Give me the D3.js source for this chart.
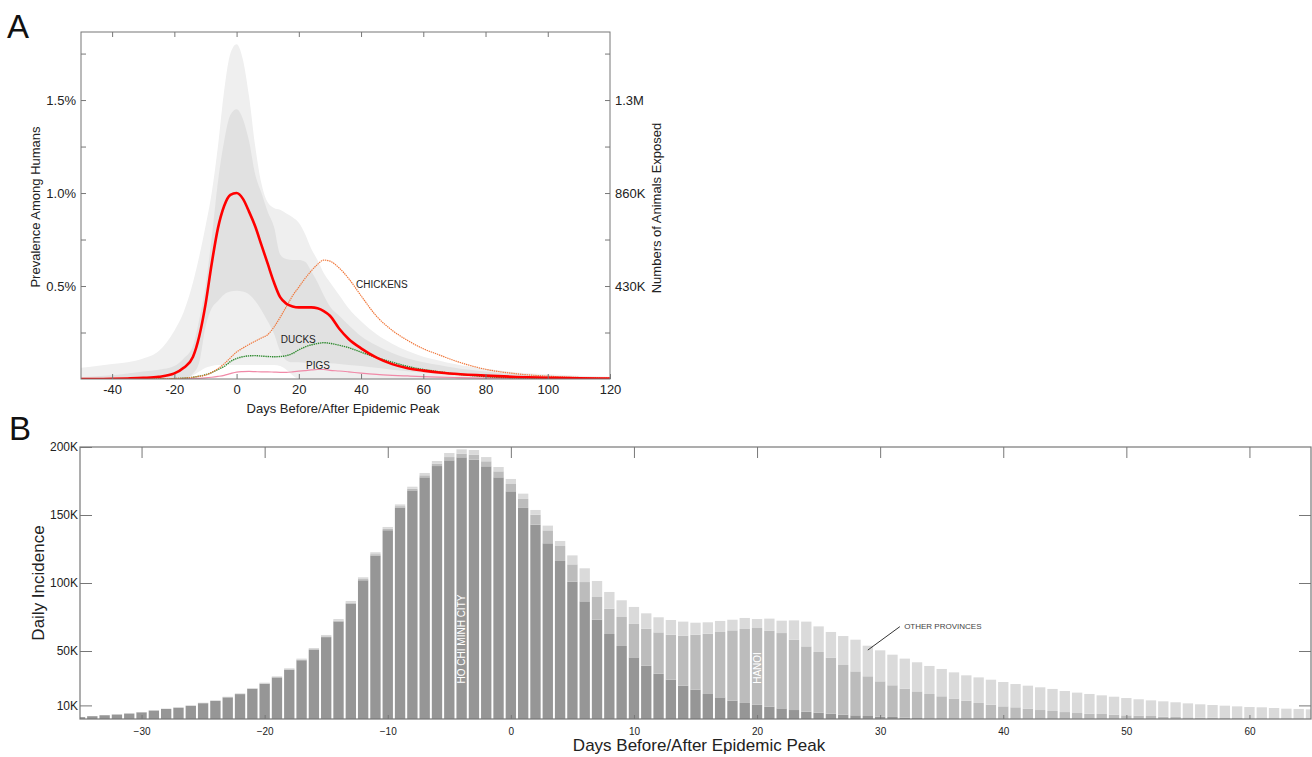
<!DOCTYPE html>
<html>
<head>
<meta charset="utf-8">
<script src="https://cdn.jsdelivr.net/npm/d3@7"></script>
<style>
  body { margin: 0; background: #fff; }
  svg { font-family: "Liberation Sans", Arial, sans-serif; }
  .tick text { fill: #222; }
</style>
</head>
<body>
<div id="chart"></div>
<script>
// ---------- panel A data (days relative to epidemic peak) ----------
const daysA = [-50, -45, -40, -35, -30, -25, -20, -17, -14, -12, -10, -8, -6, -4, -2, 0, 2, 4, 6, 8, 10, 12, 14, 16, 18, 20, 22, 24, 26, 28, 30, 33, 36, 40, 45, 50, 55, 60, 65, 70, 80, 90, 100, 110, 120];

// human prevalence, percent
const humanPct   = [0, 0, 0.001, 0.003, 0.006, 0.012, 0.03, 0.06, 0.12, 0.23, 0.40, 0.62, 0.81, 0.93, 0.99, 1.0, 0.97, 0.90, 0.82, 0.72, 0.62, 0.52, 0.44, 0.405, 0.39, 0.385, 0.385, 0.385, 0.38, 0.365, 0.34, 0.27, 0.215, 0.165, 0.115, 0.08, 0.058, 0.045, 0.035, 0.028, 0.018, 0.011, 0.007, 0.004, 0.002];
const outerHiPct = [0.06, 0.07, 0.08, 0.09, 0.11, 0.15, 0.26, 0.36, 0.52, 0.66, 0.82, 1.0, 1.25, 1.55, 1.75, 1.80, 1.72, 1.52, 1.25, 1.05, 0.95, 0.92, 0.91, 0.89, 0.87, 0.84, 0.78, 0.70, 0.64, 0.57, 0.52, 0.45, 0.38, 0.31, 0.24, 0.19, 0.15, 0.12, 0.10, 0.08, 0.055, 0.035, 0.025, 0.018, 0.012];
const outerLoPct = [0, 0, 0, 0, 0, 0, 0, 0, 0.02, 0.04, 0.06, 0.07, 0.075, 0.075, 0.075, 0.075, 0.075, 0.075, 0.075, 0.075, 0.075, 0.075, 0.07, 0.05, 0.02, 0, 0, 0, 0, 0, 0, 0, 0, 0, 0, 0, 0, 0, 0, 0, 0, 0, 0, 0, 0];
const innerHiPct = [0.01, 0.015, 0.02, 0.03, 0.04, 0.05, 0.07, 0.11, 0.18, 0.32, 0.50, 0.76, 1.06, 1.28, 1.42, 1.45, 1.40, 1.28, 1.10, 1.0, 0.90, 0.82, 0.67, 0.645, 0.64, 0.64, 0.63, 0.58, 0.52, 0.45, 0.39, 0.34, 0.29, 0.23, 0.18, 0.14, 0.11, 0.09, 0.075, 0.06, 0.04, 0.025, 0.018, 0.012, 0.008];
const innerLoPct = [0, 0, 0, 0, 0, 0, 0, 0, 0.03, 0.09, 0.28, 0.38, 0.42, 0.455, 0.47, 0.475, 0.47, 0.455, 0.42, 0.37, 0.31, 0.245, 0.15, 0.10, 0.09, 0.09, 0.088, 0.086, 0.085, 0.085, 0.085, 0.08, 0.075, 0.07, 0.06, 0.05, 0.042, 0.035, 0.027, 0.02, 0.01, 0, 0, 0, 0];

// animals exposed, thousands
const chickensK = [0, 0, 0, 0, 0, 1, 2, 4, 8, 12, 18, 30, 48, 70, 98, 125, 143, 160, 175, 190, 205, 240, 285, 335, 385, 425, 465, 500, 530, 550, 545, 513, 465, 385, 290, 225, 178, 140, 112, 85, 45, 24, 13, 7, 4];
const ducksK    = [0, 0, 0, 0, 0, 1, 2, 4, 8, 13, 20, 30, 44, 58, 80, 95, 103, 107, 108, 106, 104, 103, 104, 108, 118, 135, 148, 158, 164, 168, 165, 156, 145, 124, 99, 78, 58, 44, 34, 24, 11, 5, 3, 1, 1];
const pigsK     = [0, 0, 0, 0, 0, 0, 0, 1, 2, 3, 5, 8, 12, 17, 25, 32, 34, 35, 34, 33, 33, 32, 31, 31, 33, 36, 39, 42, 44, 44, 40, 37, 33, 27, 21, 17, 14, 11, 9, 7, 4, 3, 2, 1, 1];

const xTicksA = [-40, -20, 0, 20, 40, 60, 80, 100, 120];
const yTicksA = [0.25, 0.5, 0.75, 1.0, 1.25, 1.5, 1.75];
const yLabelsA = { 0.5: '0.5%', 1.0: '1.0%', 1.5: '1.5%' };
const nTicksA = [215, 430, 645, 860, 1075, 1290, 1505];
const nLabelsA = { 430: '430K', 860: '860K', 1290: '1.3M' };

// ---------- panel B data (daily incidence, thousands) ----------
const daysB = d3.range(-35, 66);
const hcmcK = [1.4, 2.1, 2.8, 3.3, 4.0, 4.9, 6.2, 7.4, 8.3, 9.7, 11.6, 13.3, 15.9, 18.3, 22.1, 25.9, 30.5, 36.2, 43.2, 50.8, 60.2, 71.7, 84.8, 102.0, 120.2, 138.8, 155.5, 168.1, 177.7,
  186.0, 190.2, 192.4, 190.7, 185.8, 177.7, 167.4, 155.2, 142.9, 129.2, 116.2, 101.0, 86.5, 73.0, 62.5, 53.7, 45.3, 39.2, 33.3, 28.9, 24.5, 21.6, 18.4, 15.9, 13.5, 11.8,
  10.5, 9.1, 7.8, 6.6, 5.4, 4.7, 3.9, 3.2, 2.7, 2.2, 1.7, 1.5, 1.0, 0.7, 0.5, 0.5, 0.4, 0.3, 0.3, 0.2, 0.2, 0.2, 0.1, 0.1, 0.1,
  0.1, 0.1, 0.1, 0.1, 0.1, 0.1, 0.1, 0.1, 0.1, 0.1, 0.1, 0.1, 0.1, 0.1, 0.1, 0.1, 0.1, 0.1, 0.1, 0.1, 0.1];
const hanoiK = [0, 0, 0, 0, 0.1, 0.1, 0.1, 0.1, 0.1, 0.1, 0.2, 0.2, 0.2, 0.2, 0.3, 0.3, 0.4, 0.4, 0.5, 0.6, 0.6, 0.7, 0.8, 0.9, 1.0, 1.0, 1.0, 1.2, 1.5,
  1.8, 2.4, 2.7, 3.7, 3.7, 4.4, 5.4, 6.6, 7.3, 9.5, 11.0, 12.7, 14.2, 16.7, 18.6, 21.3, 24.6, 27.2, 30.4, 33.1, 36.8, 40.4, 44.3, 48.1, 51.7, 54.4,
  56.4, 55.9, 55.4, 51.7, 48.0, 44.6, 41.2, 36.5, 32.3, 29.2, 26.0, 23.3, 21.3, 19.6, 17.9, 16.2, 14.6, 13.2, 11.5, 10.3, 9.1, 8.4, 7.5, 6.5, 5.8,
  5.0, 4.3, 3.8, 3.6, 3.1, 2.6, 2.4, 2.1, 1.6, 1.4, 1.1, 0.9, 0.9, 0.6, 0.6, 0.4, 0.4, 0.3, 0.3, 0.2, 0.2];
const otherK = [0.1, 0.1, 0.1, 0.1, 0.1, 0.1, 0.1, 0.1, 0.2, 0.2, 0.2, 0.2, 0.3, 0.4, 0.4, 0.5, 0.5, 0.7, 0.7, 0.8, 1.0, 1.1, 1.2, 1.3, 1.4, 1.4, 1.3, 1.5, 1.7,
  1.9, 3.0, 3.2, 3.4, 3.1, 3.2, 3.7, 3.9, 3.5, 3.5, 3.7, 6.6, 10.1, 11.8, 12.3, 12.3, 12.5, 11.3, 11.1, 10.8, 10.3, 8.8, 8.4, 8.1, 7.8, 8.1,
  6.6, 8.8, 9.1, 14.2, 18.2, 18.8, 18.9, 21.3, 23.3, 22.5, 22.8, 22.5, 22.1, 21.4, 20.6, 20.1, 19.3, 18.6, 18.8, 18.4, 17.9, 17.1, 16.9, 16.7, 16.2,
  15.5, 15.0, 14.5, 13.7, 13.2, 12.7, 12.0, 11.5, 11.3, 10.8, 10.3, 9.8, 9.3, 9.1, 8.6, 8.3, 8.1, 7.7, 7.2, 7.1, 6.8];

const xTicksB = [-30, -20, -10, 0, 10, 20, 30, 40, 50, 60];
const yTicksB = [10, 50, 100, 150, 200];
const layerNames = ['hcmc', 'hanoi', 'other'];
const layerColors = ['#969696', '#bcbcbc', '#dadada'];

// ---------- svg ----------
const svg = d3.select('#chart')
  .append('svg')
  .attr('width', 1312)
  .attr('height', 757);

const axisColor = '#777';

// ===================== PANEL A =====================
const boxA = { left: 81, right: 610, top: 32, bottom: 379 };
const topPct = 1.866;

const xA = d3.scaleLinear().domain([-50, 120]).range([boxA.left, boxA.right]);
const yA = d3.scaleLinear().domain([0, topPct]).range([boxA.bottom, boxA.top]);
const yN = d3.scaleLinear().domain([0, topPct * 860]).range([boxA.bottom, boxA.top]);

const gA = svg.append('g');

gA.append('clipPath').attr('id', 'clipA')
  .append('rect')
  .attr('x', boxA.left).attr('y', boxA.top)
  .attr('width', boxA.right - boxA.left).attr('height', boxA.bottom - boxA.top);

const plotA = gA.append('g').attr('clip-path', 'url(#clipA)');

const band = (lo, hi) => d3.area()
  .x((d, i) => xA(daysA[i]))
  .y0((d, i) => yA(lo[i]))
  .y1((d, i) => yA(hi[i]))
  .curve(d3.curveMonotoneX);

plotA.append('path')
  .datum(daysA)
  .attr('d', band(outerLoPct, outerHiPct))
  .attr('fill', '#efefef');

plotA.append('path')
  .datum(daysA)
  .attr('d', band(innerLoPct, innerHiPct))
  .attr('fill', '#e1e1e1');

const animalLine = d3.line()
  .x((d, i) => xA(daysA[i]))
  .y(d => yN(d))
  .curve(d3.curveMonotoneX);

plotA.append('path')
  .datum(pigsK)
  .attr('d', animalLine)
  .attr('fill', 'none')
  .attr('stroke', '#f08aa8')
  .attr('stroke-width', 1.2);

plotA.append('path')
  .datum(ducksK)
  .attr('d', animalLine)
  .attr('fill', 'none')
  .attr('stroke', '#2f8a2f')
  .attr('stroke-width', 1.4)
  .attr('stroke-dasharray', '1.4,0.8');

plotA.append('path')
  .datum(chickensK)
  .attr('d', animalLine)
  .attr('fill', 'none')
  .attr('stroke', '#f0773a')
  .attr('stroke-width', 1.2)
  .attr('stroke-dasharray', '1.4,0.8');

plotA.append('path')
  .datum(humanPct)
  .attr('d', d3.line()
    .x((d, i) => xA(daysA[i]))
    .y(d => yA(d))
    .curve(d3.curveMonotoneX))
  .attr('fill', 'none')
  .attr('stroke', '#ff0000')
  .attr('stroke-width', 2.6);

// annotations
const noteA = [
  { text: 'CHICKENS', day: 38.4, pct: 0.489 },
  { text: 'DUCKS', day: 14.2, pct: 0.195 },
  { text: 'PIGS', day: 22.3, pct: 0.055 }
];
gA.selectAll('.noteA')
  .data(noteA)
  .enter()
  .append('text')
  .attr('class', 'noteA')
  .attr('x', d => xA(d.day))
  .attr('y', d => yA(d.pct))
  .text(d => d.text)
  .style('font-size', '10px')
  .style('fill', '#222');

// frame
gA.append('rect')
  .attr('x', boxA.left).attr('y', boxA.top)
  .attr('width', boxA.right - boxA.left).attr('height', boxA.bottom - boxA.top)
  .attr('fill', 'none')
  .attr('stroke', axisColor)
  .attr('stroke-width', 1);

// axes
const axisA = (g, fontSize) => {
  g.select('.domain').remove();
  g.selectAll('.tick line').attr('stroke', axisColor);
  g.selectAll('.tick text').style('font-size', fontSize);
};

gA.append('g')
  .attr('transform', `translate(0,${boxA.bottom})`)
  .call(d3.axisBottom(xA).tickValues(xTicksA).tickSize(-5).tickPadding(6).tickFormat(d => String(d)))
  .call(axisA, '13px');

gA.append('g')
  .attr('transform', `translate(0,${boxA.top})`)
  .call(d3.axisTop(xA).tickValues(xTicksA.slice(0, -1)).tickSize(-5).tickFormat(''))
  .call(axisA, '13px');

gA.append('g')
  .attr('transform', `translate(${boxA.left},0)`)
  .call(d3.axisLeft(yA).tickValues(yTicksA).tickSize(-5).tickPadding(5).tickFormat(d => yLabelsA[d] || ''))
  .call(axisA, '13px');

gA.append('g')
  .attr('transform', `translate(${boxA.right},0)`)
  .call(d3.axisRight(yN).tickValues(nTicksA).tickSize(-5).tickPadding(5).tickFormat(d => nLabelsA[d] || ''))
  .call(axisA, '13px');

gA.append('text')
  .text('Days Before/After Epidemic Peak')
  .attr('x', 343)
  .attr('y', 413)
  .attr('text-anchor', 'middle')
  .style('font-size', '13px')
  .style('fill', '#222');

gA.append('text')
  .text('Prevalence Among Humans')
  .attr('transform', 'translate(40,207) rotate(-90)')
  .attr('text-anchor', 'middle')
  .style('font-size', '13px')
  .style('fill', '#222');

gA.append('text')
  .text('Numbers of Animals Exposed')
  .attr('transform', 'translate(661,208) rotate(-90)')
  .attr('text-anchor', 'middle')
  .style('font-size', '13px')
  .style('fill', '#222');

svg.append('text')
  .text('A')
  .attr('x', 7)
  .attr('y', 38)
  .style('font-size', '33px')
  .style('fill', '#111');

// ===================== PANEL B =====================
const boxB = { left: 80, right: 1311, top: 447, bottom: 719 };

const xB = d3.scaleLinear().domain([-35, 65]).range([boxB.left, boxB.right]);
const yB = d3.scaleLinear().domain([0, 200]).range([boxB.bottom, boxB.top]);
const step = xB(1) - xB(0);
const barW = step * 0.84;

const tableB = daysB.map((day, i) => ({ day: day, hcmc: hcmcK[i], hanoi: hanoiK[i], other: otherK[i] }));
const stackB = d3.stack().keys(layerNames)(tableB);

const gB = svg.append('g');

gB.append('clipPath').attr('id', 'clipB')
  .append('rect')
  .attr('x', boxB.left).attr('y', boxB.top)
  .attr('width', boxB.right - boxB.left).attr('height', boxB.bottom - boxB.top);

const plotB = gB.append('g').attr('clip-path', 'url(#clipB)');

plotB.selectAll('.layer')
  .data(stackB)
  .enter()
  .append('g')
  .attr('class', 'layer')
  .attr('fill', (d, i) => layerColors[i])
  .selectAll('rect')
  .data(d => d)
  .enter()
  .append('rect')
  .attr('x', d => xB(d.data.day) - barW / 2)
  .attr('y', d => yB(d[1]))
  .attr('width', barW)
  .attr('height', d => Math.max(0, yB(d[0]) - yB(d[1])));

// frame
gB.append('rect')
  .attr('x', boxB.left).attr('y', boxB.top)
  .attr('width', boxB.right - boxB.left).attr('height', boxB.bottom - boxB.top)
  .attr('fill', 'none')
  .attr('stroke', axisColor)
  .attr('stroke-width', 1.2);

gB.append('g')
  .attr('transform', `translate(0,${boxB.bottom})`)
  .call(d3.axisBottom(xB).tickValues(xTicksB).tickSize(-4).tickPadding(8.5))
  .call(axisA, '10px');

gB.append('g')
  .attr('transform', `translate(0,${boxB.top})`)
  .call(d3.axisTop(xB).tickValues(xTicksB).tickSize(-11).tickFormat(''))
  .call(axisA, '10px');

gB.append('g')
  .attr('transform', `translate(${boxB.left},0)`)
  .call(d3.axisLeft(yB).tickValues(yTicksB).tickSize(-12).tickPadding(2).tickFormat(d => d + 'K'))
  .call(axisA, '12px');

gB.append('g')
  .attr('transform', `translate(${boxB.right},0)`)
  .call(d3.axisRight(yB).tickValues(yTicksB.slice(0, -1)).tickSize(-12).tickFormat(''))
  .call(axisA, '12px');

// bar labels
gB.append('text')
  .text('HO CHI MINH CITY')
  .attr('transform', `translate(${xB(-4) + 3.5},${yB(58.8)}) rotate(-90)`)
  .attr('text-anchor', 'middle')
  .style('font-size', '10px')
  .style('fill', '#fff');

gB.append('text')
  .text('HANOI')
  .attr('transform', `translate(${xB(20) + 3.5},${yB(37.5)}) rotate(-90)`)
  .attr('text-anchor', 'middle')
  .style('font-size', '10px')
  .style('fill', '#fff');

gB.append('line')
  .attr('x1', xB(29.0)).attr('y1', yB(50.7))
  .attr('x2', xB(31.6)).attr('y2', yB(67.9))
  .attr('stroke', '#333')
  .attr('stroke-width', 1);

gB.append('text')
  .text('OTHER PROVINCES')
  .attr('x', xB(31.95))
  .attr('y', yB(66.2))
  .style('font-size', '8px')
  .style('fill', '#444');

gB.append('text')
  .text('Days Before/After Epidemic Peak')
  .attr('x', 699)
  .attr('y', 751)
  .attr('text-anchor', 'middle')
  .style('font-size', '17px')
  .style('fill', '#222');

gB.append('text')
  .text('Daily Incidence')
  .attr('transform', 'translate(44,583) rotate(-90)')
  .attr('text-anchor', 'middle')
  .style('font-size', '17px')
  .style('fill', '#222');

svg.append('text')
  .text('B')
  .attr('x', 9)
  .attr('y', 440)
  .style('font-size', '33px')
  .style('fill', '#111');
</script>
</body>
</html>
